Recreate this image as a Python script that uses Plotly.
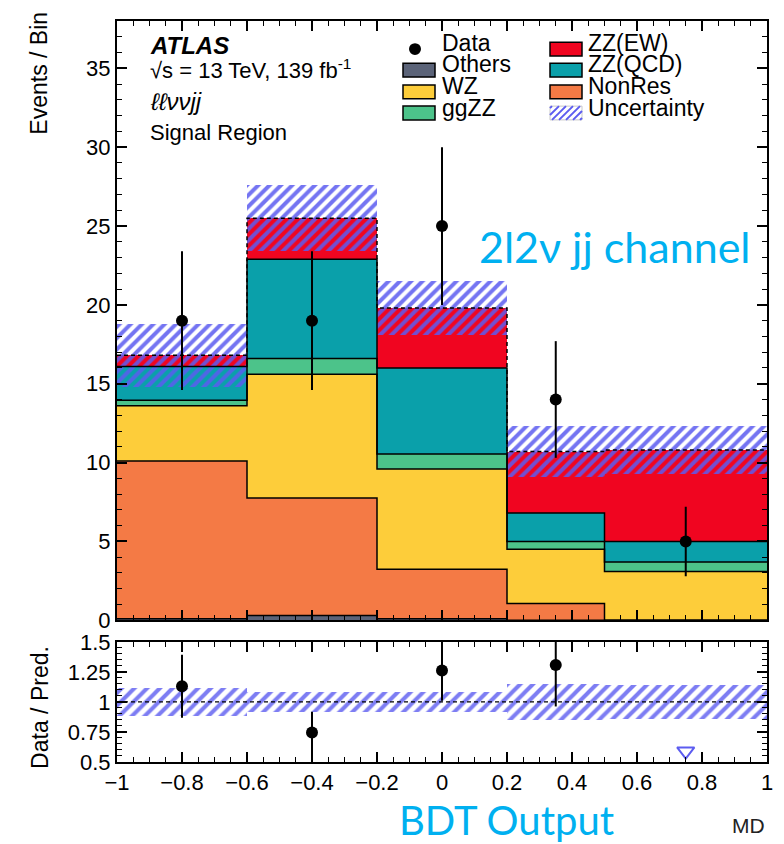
import plotly.graph_objects as go

# ---------------- data ----------------
bin_edges = [-1.0, -0.6, -0.2, 0.2, 0.5, 1.0]
others = [0.1, 0.3, 0.1, 0.0, 0.0]
nonres = [10.0, 7.45, 3.14, 1.06, 0.0]
wz = [3.5, 7.85, 6.36, 3.44, 3.1]
ggzz = [0.36, 1.0, 0.95, 0.5, 0.6]
zz_qcd = [2.14, 6.3, 5.45, 1.8, 1.3]
zz_ew = [0.7, 2.6, 3.8, 3.9, 5.8]
pred_unc = [2.0, 2.1, 1.7, 1.6, 1.5]
data_x = [-0.8, -0.4, 0.0, 0.35, 0.75]
data_y = [19, 19, 25, 14, 5]
data_err = [4.4, 4.4, 5.0, 3.7, 2.2]
x_tickvals = [-1, -0.8, -0.6, -0.4, -0.2, 0, 0.2, 0.4, 0.6, 0.8, 1]
x_ticktext = ["\u22121", "\u22120.8", "\u22120.6", "\u22120.4", "\u22120.2", "0", "0.2", "0.4", "0.6", "0.8", "1"]
ratio_tickvals = [0.5, 0.75, 1, 1.25, 1.5]
ratio_ticktext = ["0.5", "0.75", "1", "1.25", "1.5"]

process_names = ["Others", "NonRes", "WZ", "ggZZ", "ZZ(QCD)", "ZZ(EW)"]
process_vals = [others, nonres, wz, ggzz, zz_qcd, zz_ew]
process_colors = ["#5b6378", "#f47a45", "#fdcd3a", "#4cc38a", "#0aa0aa", "#f00520"]
HATCH = "#5c5cf0"

# ---------------- layout geometry (pixels) ----------------
W, H = 784, 844
L, R, T, B = 117, 767, 9, 762
PW, PH = R - L, B - T


def px(x):
    return (x - L) / PW


def py(y):
    return (B - y) / PH


main_dom = [py(618), 1.0]
ratio_dom = [0.0, py(640)]

centers = [(a + b) / 2 for a, b in zip(bin_edges[:-1], bin_edges[1:])]
widths = [b - a for a, b in zip(bin_edges[:-1], bin_edges[1:])]

fig = go.Figure()

# stacked bars
cum = [0.0] * len(centers)
cums = []
for name, vals, col in zip(process_names, process_vals, process_colors):
    fig.add_trace(go.Bar(x=centers, y=vals, base=list(cum), width=widths,
                         marker=dict(color=col, line=dict(width=0)),
                         name=name, showlegend=False, xaxis="x", yaxis="y"))
    cum = [c + v for c, v in zip(cum, vals)]
    cums.append(list(cum))

total = cums[-1]

# uncertainty hatch (main)
fig.add_trace(go.Bar(x=centers, y=[2 * u for u in pred_unc],
                     base=[t - u for t, u in zip(total, pred_unc)], width=widths,
                     marker=dict(color="rgba(0,0,0,0)", line=dict(width=0),
                                 pattern=dict(shape="/", fgcolor=HATCH, bgcolor="rgba(0,0,0,0)",
                                              fgopacity=0.85, size=8, solidity=0.5)),
                     showlegend=False, xaxis="x", yaxis="y"))

# step outlines
for i, c in enumerate(cums):
    fig.add_trace(go.Scatter(x=bin_edges, y=c + [c[-1]], mode="lines",
                             line=dict(color="black", width=1.5, shape="hv",
                                       dash="4px,3px" if i == len(cums) - 1 else "solid"),
                             showlegend=False, hoverinfo="skip", xaxis="x", yaxis="y"))

# data
fig.add_trace(go.Scatter(x=data_x, y=data_y, mode="markers",
                         marker=dict(color="black", size=12),
                         error_y=dict(type="data", array=data_err, color="black", thickness=2, width=0),
                         showlegend=False, xaxis="x", yaxis="y"))

# ---------------- ratio panel ----------------
rel_unc = [u / t for u, t in zip(pred_unc, total)]
fig.add_trace(go.Bar(x=centers, y=[2 * r for r in rel_unc], base=[1 - r for r in rel_unc], width=widths,
                     marker=dict(color="rgba(0,0,0,0)", line=dict(width=0),
                                 pattern=dict(shape="/", fgcolor=HATCH, bgcolor="rgba(0,0,0,0)",
                                              fgopacity=0.8, size=9, solidity=0.45)),
                     showlegend=False, xaxis="x2", yaxis="y2"))

ratio = [d / t for d, t in zip(data_y, total)]
ratio_err = [e / t for e, t in zip(data_err, total)]
rmin, rmax = ratio_tickvals[0], ratio_tickvals[-1]
in_x = [x for x, r in zip(data_x, ratio) if r >= rmin]
in_y = [r for r in ratio if r >= rmin]
in_e = [e for e, r in zip(ratio_err, ratio) if r >= rmin]
fig.add_trace(go.Scatter(x=in_x, y=in_y, mode="markers",
                         marker=dict(color="black", size=12),
                         error_y=dict(type="data", array=in_e, color="black", thickness=2, width=0),
                         showlegend=False, xaxis="x2", yaxis="y2"))
out_x = [x for x, r in zip(data_x, ratio) if r < rmin]
fig.add_trace(go.Scatter(x=out_x, y=[rmin + 0.09] * len(out_x), mode="markers",
                         marker=dict(symbol="triangle-down-open", color=HATCH, size=15,
                                     line=dict(width=2, color=HATCH)),
                         showlegend=False, xaxis="x2", yaxis="y2", cliponaxis=False))

axis_common = dict(showline=True, linecolor="black", linewidth=2, mirror="allticks",
                   ticks="inside", ticklen=10, tickwidth=1.5, tickcolor="black",
                   showgrid=False, zeroline=False,
                   tickfont=dict(family="Liberation Sans", size=22, color="black"))
minor_x = dict(dtick=0.05, tick0=-1, ticks="inside", ticklen=5, tickwidth=1, tickcolor="black", showgrid=False)

fig.update_layout(
    width=W, height=H,
    margin=dict(l=L, r=W - R, t=T, b=H - B),
    paper_bgcolor="white", plot_bgcolor="white",
    barmode="overlay", bargap=0, showlegend=False,
    xaxis=dict(axis_common, domain=[0, 1], anchor="y", range=[-1, 1],
               tickvals=x_tickvals, showticklabels=False, minor=minor_x),
    yaxis=dict(axis_common, domain=main_dom, anchor="x", range=[0, 38], tick0=0, dtick=5,
               minor=dict(dtick=1, tick0=0, ticks="inside", ticklen=5, tickwidth=1, tickcolor="black", showgrid=False)),
    xaxis2=dict(axis_common, domain=[0, 1], anchor="y2", range=[-1, 1], matches="x",
                tickvals=x_tickvals, ticktext=x_ticktext, minor=minor_x),
    yaxis2=dict(axis_common, domain=ratio_dom, anchor="x2", range=[rmin, rmax],
                tickvals=ratio_tickvals, ticktext=ratio_ticktext,
                minor=dict(dtick=0.05, tick0=0.5, ticks="inside", ticklen=5, tickwidth=1, tickcolor="black", showgrid=False)),
)

shapes = []
# dashed line at 1 in ratio
shapes.append(dict(type="line", xref="x2 domain", yref="y2", x0=0, x1=1, y0=1, y1=1,
                   line=dict(color="black", width=1.2, dash="4px,3px"), layer="above"))

annotations = []


def text(x, y, s, size=22, family="Liberation Sans", color="black", xanchor="left", yanchor="middle", angle=0):
    annotations.append(dict(xref="paper", yref="paper", x=px(x), y=py(y), text=s, showarrow=False,
                            xanchor=xanchor, yanchor=yanchor, textangle=angle,
                            font=dict(family=family, size=size, color=color)))


# axis titles
text(39, -2, "Events / Bin", size=23, xanchor="center", yanchor="top", angle=-90)
text(40, 707, "Data / Pred.", size=23, xanchor="center", yanchor="middle", angle=-90)

# ATLAS label
text(148, 34, "<b><i>ATLAS</i></b>", size=24)
text(148, 58, "\u221as = 13 TeV, 139 fb<sup>-1</sup>", size=22)
text(148, 91, "<i>\u2113\u2113\u03bd\u03bdjj</i>", size=24)
text(148, 122, "Signal Region", size=22)

# manual legend
leg_rows_box = [37.5, 59, 81, 102.5]
leg_rows_txt = [31.5, 53, 75, 97]
col1 = [("Data", None), ("Others", process_colors[0]), ("WZ", process_colors[2]), ("ggZZ", process_colors[3])]
col2 = [("ZZ(EW)", process_colors[5]), ("ZZ(QCD)", process_colors[4]), ("NonRes", process_colors[1]), ("Uncertainty", "hatch")]
for (bx0, bx1, tx), col in [((403, 435, 440), col1), ((550, 582, 586), col2)]:
    for (lab, c), yb, yt in zip(col, leg_rows_box, leg_rows_txt):
        text(tx, yt, lab, size=23)
        if c is None:
            shapes.append(dict(type="circle", xref="paper", yref="paper",
                               x0=px(415 - 6), x1=px(415 + 6), y0=py(yb - 6), y1=py(yb + 6),
                               fillcolor="black", line=dict(width=0)))
        elif c == "hatch":
            shapes.append(dict(type="rect", xref="paper", yref="paper",
                               x0=px(bx0), x1=px(bx1), y0=py(yb + 7), y1=py(yb - 7),
                               fillcolor="white", line=dict(color="#c8c8c8", width=1)))
            k = bx0 - 12
            while k < bx1:
                xa, xb = k, k + 14
                ya, yb2 = yb + 7, yb - 7
                if xa < bx0:
                    ya -= (bx0 - xa)
                    xa = bx0
                if xb > bx1:
                    yb2 += (xb - bx1)
                    xb = bx1
                if xb > xa:
                    shapes.append(dict(type="line", xref="paper", yref="paper",
                                       x0=px(xa), x1=px(xb), y0=py(ya), y1=py(yb2),
                                       line=dict(color=HATCH, width=2)))
                k += 7
        else:
            shapes.append(dict(type="rect", xref="paper", yref="paper",
                               x0=px(bx0), x1=px(bx1), y0=py(yb + 7), y1=py(yb - 7),
                               fillcolor=c, line=dict(color="black", width=1.5)))

# overlay texts
text(477, 238, "2l2\u03bd jj channel", size=43, family="Lato", color="#00b0f0")
text(506, 821, "BDT Output", size=40, family="Lato", color="#00b0f0", xanchor="center")
text(767, 827, "MD", size=21, color="#222222", xanchor="right")

fig.update_layout(shapes=shapes, annotations=annotations)
fig.write_html("out.html")
